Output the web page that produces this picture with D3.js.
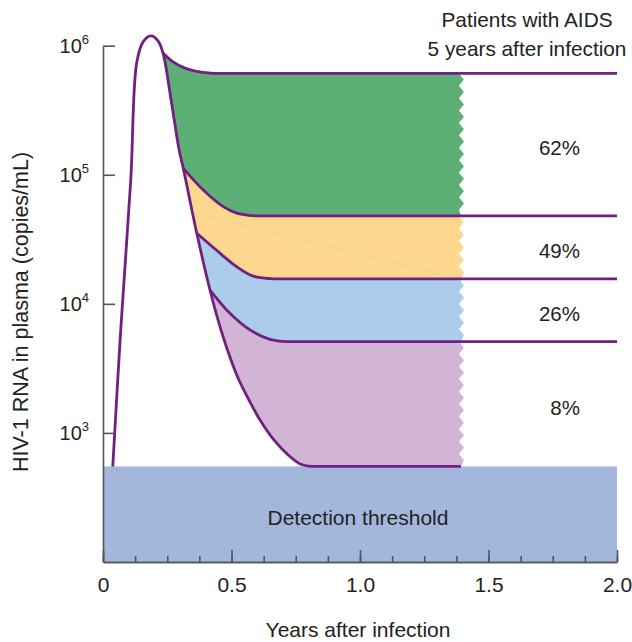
<!DOCTYPE html>
<html>
<head>
<meta charset="utf-8">
<script src="https://cdn.jsdelivr.net/npm/d3@7"></script>
<style>
body { margin: 0; background: #fff; }
svg { font-family: "Liberation Sans", Arial, sans-serif; }
</style>
</head>
<body>
<div id="chart"></div>
<script>
// all points are [years after infection, copies/mL]
var acutePhase = [[0.038, 548], [0.069, 6280], [0.108, 9.1e4], [0.131, 7.35e5], [0.156, 1.07e6],
                  [0.186, 1.19e6], [0.214, 1.09e6], [0.2335, 8.78e5]];
// common steep drop after the peak (branch points of each set point are on it)
var stem = [[0.2335, 8.78e5], [0.265, 3.8e5], [0.296, 1.56e5], [0.3125, 1.12e5], [0.365, 3.52e4], [0.4163, 1.28e4]];
// each trajectory leaves the stem and settles on its set point
var traj62 = [[0.2335, 8.78e5], [0.2685, 7.6e5], [0.319, 6.7e5], [0.377, 6.26e5], [0.436, 6.1e5]];
var traj49 = [[0.3125, 1.12e5], [0.39, 7.62e4], [0.468, 5.66e4], [0.52, 5.04e4], [0.591, 4.8e4]];
var traj26 = [[0.365, 3.52e4], [0.455, 2.47e4], [0.52, 1.94e4], [0.585, 1.64e4], [0.669, 1.56e4]];
var traj8 = [[0.4163, 1.28e4], [0.494, 8450], [0.572, 6280], [0.65, 5310], [0.72, 5100]];
var trajFloor = [[0.4163, 1.28e4], [0.459, 6280], [0.498, 3675], [0.529, 2570], [0.568, 1800], [0.611, 1259],
                 [0.665, 883], [0.72, 676], [0.767, 575], [0.813, 550]];
var aidsLabels = ["62%", "49%", "26%", "8%"];
var threshold = 550;
var tEnd = 1.385;       // where the shaded bands stop
var faintGuide = [[0.354, 5.04e4], [1.385, 1.56e4]];
var xTicks = [0, 0.5, 1.0, 1.5, 2.0];
var xTickLabels = ["0", "0.5", "1.0", "1.5", "2.0"];
var yTicks = [1e3, 1e4, 1e5, 1e6];
var yTickExp = ["3", "4", "5", "6"];

var colors = ["#5eaf75", "#fdd78e", "#abcdeb", "#d2b4d5"];
var purple = "#711f80";
var textColor = "#222";

var width = 632, height = 642;
var svg = d3.select("#chart").append("svg")
    .attr("width", width)
    .attr("height", height);

var x = d3.scaleLinear().domain([0, 2]).range([103, 617]);
var y = d3.scaleLog().domain([100, 1e6]).range([562, 45.7]);

var curve = d3.line()
    .x(function(d) { return x(d[0]); })
    .y(function(d) { return y(d[1]); })
    .curve(d3.curveCatmullRom.alpha(0.5));

function seg(pts) { return curve(pts).replace(/^M/, "L"); }
function last(a) { return a[a.length - 1]; }

// zigzag tear on the right edge of a band
function zigzag(y0, y1) {
    var xe = x(tEnd), s = "";
    var n = Math.max(2, Math.round((y1 - y0) / 6.2));
    var step = (y1 - y0) / n;
    for (var j = 1; j < n; j++) {
        s += "L" + (xe + (j % 2 ? 5 : 0)) + "," + (y0 + j * step);
    }
    s += "L" + (xe + 2) + "," + y1;
    return s;
}

// detection threshold band
svg.append("rect")
    .attr("x", x(0))
    .attr("y", y(threshold))
    .attr("width", x(2) - x(0))
    .attr("height", y(100) - y(threshold))
    .attr("fill", "#a3b7dd");

// shaded bands
var trajectories = [traj62, traj49, traj26, traj8, trajFloor];
for (var k = 0; k < 4; k++) {
    var upper = trajectories[k], lower = trajectories[k + 1];
    var topV = last(upper)[1], botV = last(lower)[1];
    var i0 = stem.findIndex(function(d) { return d[0] === upper[0][0]; });
    var i1 = stem.findIndex(function(d) { return d[0] === lower[0][0]; });
    var p = curve(upper);
    p += "L" + x(tEnd) + "," + y(topV);
    p += zigzag(y(topV), y(botV));
    p += "L" + x(last(lower)[0]) + "," + y(botV);
    p += seg(lower.slice().reverse());
    if (i1 > i0) p += seg(stem.slice(i0, i1 + 1).reverse());
    p += "Z";
    svg.append("path").attr("d", p).attr("fill", colors[k]);
}

// faint stray guide in the yellow band
svg.append("path")
    .attr("d", d3.line().x(function(d) { return x(d[0]); }).y(function(d) { return y(d[1]); })(faintGuide))
    .attr("stroke", "#cfd8a6")
    .attr("stroke-width", 0.8)
    .attr("fill", "none");

// main viral load curve
var mainLine = acutePhase.concat(stem.slice(1), trajFloor.slice(1));
svg.append("path")
    .attr("d", curve(mainLine) + "L" + (x(tEnd) + 2) + "," + y(threshold))
    .attr("fill", "none")
    .attr("stroke", purple)
    .attr("stroke-width", 2.8)
    .attr("stroke-linejoin", "round");

// set point lines run on to 2 years
[traj62, traj49, traj26, traj8].forEach(function(t) {
    svg.append("path")
        .attr("d", curve(t) + "L" + x(2) + "," + y(last(t)[1]))
        .attr("fill", "none")
        .attr("stroke", purple)
        .attr("stroke-width", 2.8);
});

// axes
svg.append("g")
    .attr("transform", "translate(0," + y(100) + ")")
    .call(d3.axisBottom(x).tickValues(d3.range(0, 2.001, 0.125)).tickSize(-6).tickSizeOuter(0).tickFormat(""));
var xAxis = svg.append("g")
    .attr("transform", "translate(0," + y(100) + ")")
    .call(d3.axisBottom(x).tickValues(xTicks).tickSize(-12).tickSizeOuter(0)
        .tickFormat(function(d, i) { return xTickLabels[i]; }));
xAxis.selectAll("text")
    .attr("y", 15)
    .attr("dy", "0.72em")
    .style("font-size", "21px")
    .attr("fill", textColor);

svg.append("g")
    .attr("transform", "translate(" + x(0) + ",0)")
    .call(d3.axisLeft(y).tickValues(yTicks).tickSize(-12).tickSizeOuter(0).tickFormat(""));

svg.selectAll(".domain, .tick line")
    .attr("stroke", "#555")
    .attr("stroke-width", 1.6);

var yLab = svg.append("g").selectAll("text")
    .data(yTicks)
    .enter().append("text")
    .attr("x", 89)
    .attr("y", function(d) { return y(d) + 7; })
    .attr("text-anchor", "end")
    .attr("fill", textColor);
yLab.append("tspan").style("font-size", "20px").text("10");
yLab.append("tspan").style("font-size", "13px").attr("dy", -9)
    .text(function(d, i) { return yTickExp[i]; });

// percent labels between set point lines
var plateaus = trajectories.map(function(t) { return last(t)[1]; });
svg.selectAll(".pct")
    .data(aidsLabels)
    .enter().append("text")
    .attr("class", "pct")
    .attr("x", 580)
    .attr("y", function(d, i) { return (y(plateaus[i]) + y(plateaus[i + 1])) / 2 + 3.5; })
    .attr("dy", "0.35em")
    .attr("text-anchor", "end")
    .style("font-size", "20.5px")
    .attr("fill", textColor)
    .text(function(d) { return d; });

// titles
svg.append("text").attr("x", 527).attr("y", 27).attr("text-anchor", "middle")
    .style("font-size", "20.8px").attr("fill", textColor).text("Patients with AIDS");
svg.append("text").attr("x", 527).attr("y", 56).attr("text-anchor", "middle")
    .style("font-size", "20.8px").attr("fill", textColor).text("5 years after infection");
svg.append("text").attr("x", x(1) - 2).attr("y", (y(threshold) + y(100)) / 2 + 11).attr("text-anchor", "middle")
    .style("font-size", "21px").attr("fill", textColor).text("Detection threshold");
svg.append("text").attr("x", x(1) - 2).attr("y", 637).attr("text-anchor", "middle")
    .style("font-size", "21px").attr("fill", textColor).text("Years after infection");
svg.append("text")
    .attr("transform", "translate(28," + 312 + ") rotate(-90)")
    .attr("text-anchor", "middle")
    .style("font-size", "21.5px")
    .attr("fill", textColor)
    .text("HIV-1 RNA in plasma (copies/mL)");
</script>
</body>
</html>
